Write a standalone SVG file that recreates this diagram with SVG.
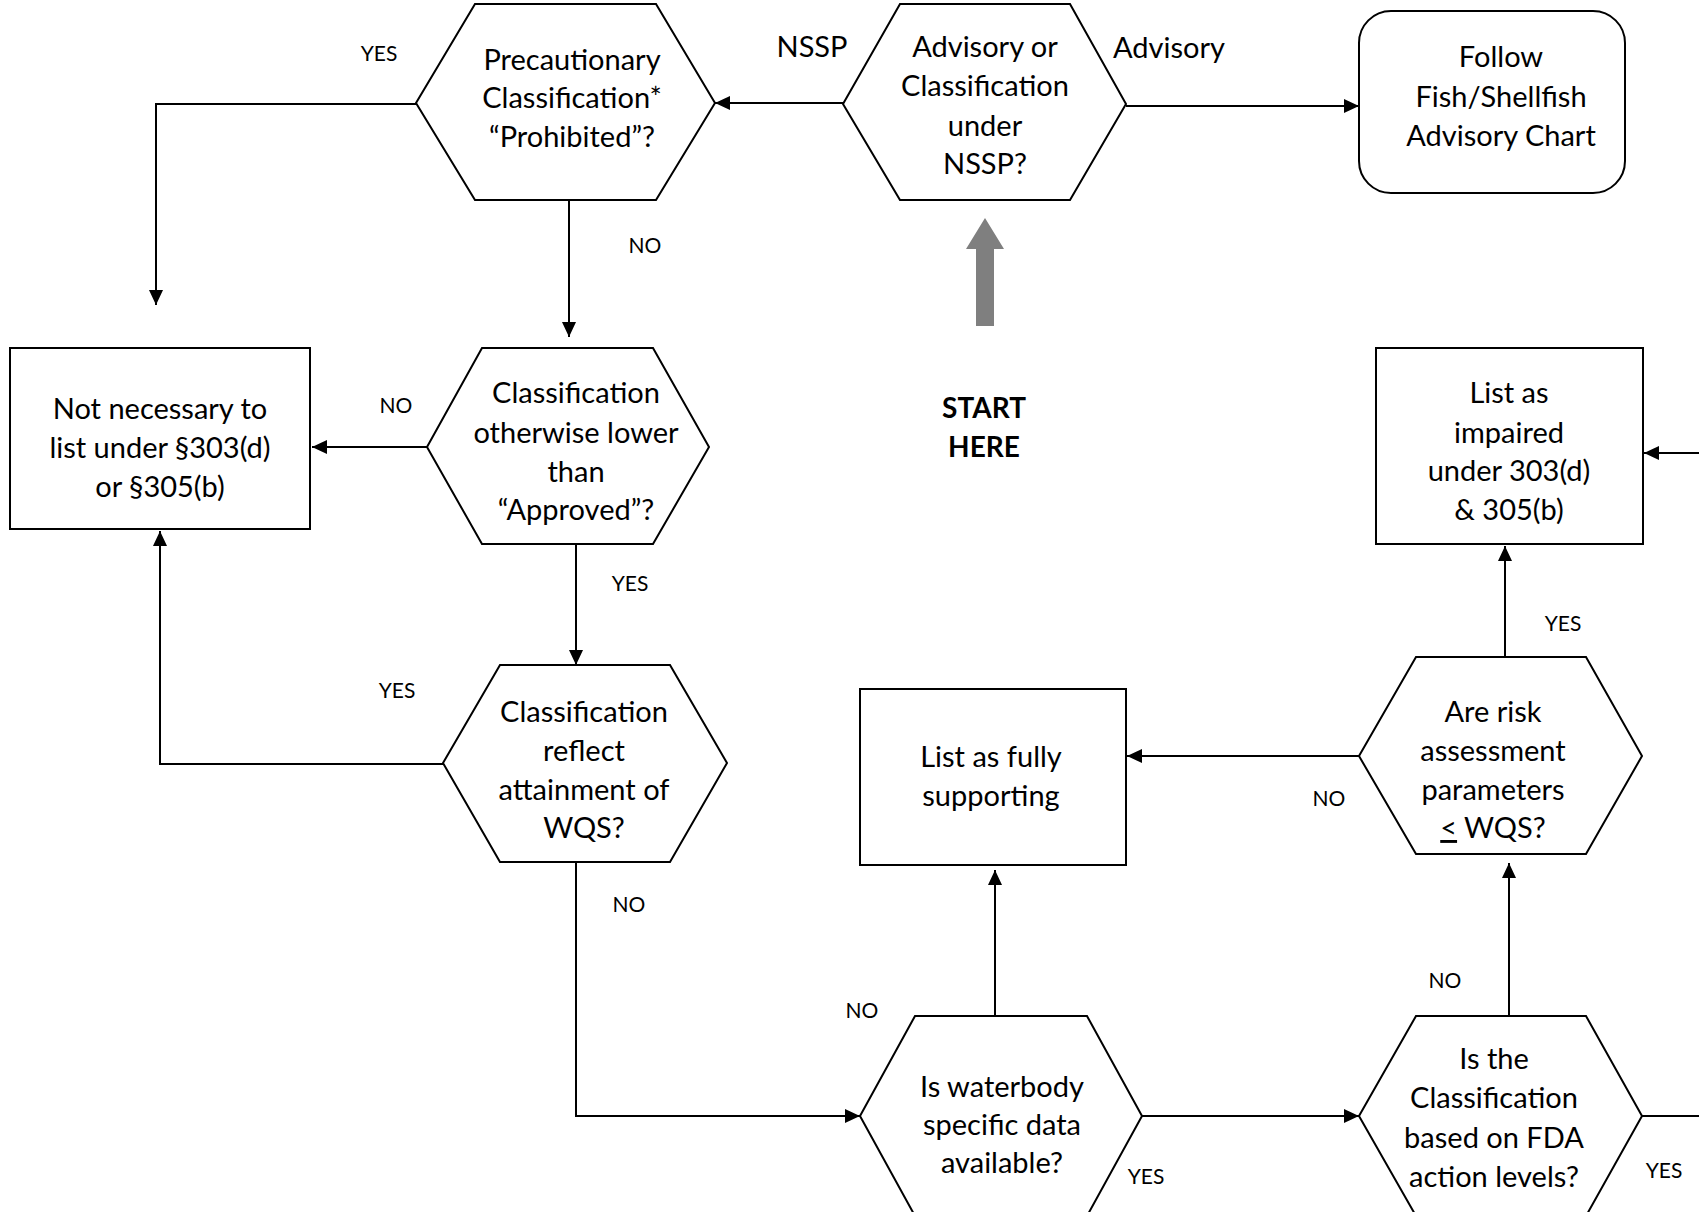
<svg xmlns="http://www.w3.org/2000/svg" width="1699" height="1212" viewBox="0 0 1699 1212">
<style>
.shape{fill:#fff;stroke:#000;stroke-width:2}
.t{font-family:Lato,"Liberation Sans",sans-serif;font-size:29px;fill:#000;text-anchor:middle}
.lbl{font-family:Lato,"Liberation Sans",sans-serif;font-size:21px;fill:#000;text-anchor:middle}
.b{font-weight:bold;font-size:28px}
.c{fill:none;stroke:#000;stroke-width:2}
</style>
<defs>
<marker id="ah" viewBox="0 0 15 14" refX="15" refY="7" markerWidth="15" markerHeight="14" orient="auto" markerUnits="userSpaceOnUse"><path d="M0,0 L15,7 L0,14 z" fill="#000"/></marker>
</defs>
<rect width="1699" height="1212" fill="#fff"/>

<g id="connectors">
<path class="c" d="M1126 106 H1359" marker-end="url(#ah)"/>
<path class="c" d="M843 103 H715" marker-end="url(#ah)"/>
<path class="c" d="M416 104 H156 V305" marker-end="url(#ah)"/>
<path class="c" d="M569 200 V337" marker-end="url(#ah)"/>
<path class="c" d="M427 447 H312" marker-end="url(#ah)"/>
<path class="c" d="M576 544 V665" marker-end="url(#ah)"/>
<path class="c" d="M443 764 H160 V531" marker-end="url(#ah)"/>
<path class="c" d="M576 862 V1116 H860" marker-end="url(#ah)"/>
<path class="c" d="M995 1016 V870" marker-end="url(#ah)"/>
<path class="c" d="M1359 756 H1127" marker-end="url(#ah)"/>
<path class="c" d="M1505 657 V546" marker-end="url(#ah)"/>
<path class="c" d="M1509 1016 V863" marker-end="url(#ah)"/>
<path class="c" d="M1142 1116 H1359" marker-end="url(#ah)"/>
<path class="c" d="M1642 1116 H1699"/>
<path class="c" d="M1699 453 H1644" marker-end="url(#ah)"/>
<polygon points="985,218 1004,249 994,249 994,326 976,326 976,249 966,249" fill="#7f7f7f"/>
<text class="lbl" x="379" y="61">YES</text>
<text class="t" x="812" y="57">NSSP</text>
<text class="t" x="1169" y="58">Advisory</text>
<text class="lbl" x="645" y="253">NO</text>
<text class="lbl" x="396" y="413">NO</text>
<text class="lbl" x="630" y="591">YES</text>
<text class="lbl" x="397" y="698">YES</text>
<text class="lbl" x="629" y="912">NO</text>
<text class="lbl" x="862" y="1018">NO</text>
<text class="lbl" x="1329" y="806">NO</text>
<text class="lbl" x="1563" y="631">YES</text>
<text class="lbl" x="1146" y="1184">YES</text>
<text class="lbl" x="1445" y="988">NO</text>
<text class="lbl" x="1664" y="1178">YES</text>
</g>

<g id="start">
<text class="t b" x="984" y="418">START</text>
<text class="t b" x="984" y="457">HERE</text>
</g>

<g id="precautionary">
<polygon class="shape" points="475,4 656,4 715,103 656,200 475,200 416,103"/>
<text class="t" x="572" y="70">Precautionary</text>
<text class="t" x="572" y="108">Classification*</text>
<text class="t" x="572" y="147">“Prohibited”?</text>
</g>

<g id="advisory">
<polygon class="shape" points="900,4 1070,4 1126,104 1070,200 900,200 843,104"/>
<text class="t" x="985" y="57">Advisory or</text>
<text class="t" x="985" y="96">Classification</text>
<text class="t" x="985" y="136">under</text>
<text class="t" x="985" y="174">NSSP?</text>
</g>

<g id="follow">
<rect class="shape" x="1359" y="11" width="266" height="182" rx="32"/>
<text class="t" x="1501" y="67">Follow</text>
<text class="t" x="1501" y="107">Fish/Shellfish</text>
<text class="t" x="1501" y="146">Advisory Chart</text>
</g>

<g id="lower">
<polygon class="shape" points="482,348 653,348 709,447 653,544 482,544 427,447"/>
<text class="t" x="576" y="403">Classification</text>
<text class="t" x="576" y="443">otherwise lower</text>
<text class="t" x="576" y="482">than</text>
<text class="t" x="576" y="520">“Approved”?</text>
</g>

<g id="notnecessary">
<rect class="shape" x="10" y="348" width="300" height="181"/>
<text class="t" x="160" y="419">Not necessary to</text>
<text class="t" x="160" y="458">list under §303(d)</text>
<text class="t" x="160" y="497">or §305(b)</text>
</g>

<g id="reflect">
<polygon class="shape" points="500,665 670,665 727,763 670,862 500,862 443,763"/>
<text class="t" x="584" y="722">Classification</text>
<text class="t" x="584" y="761">reflect</text>
<text class="t" x="584" y="800">attainment of</text>
<text class="t" x="584" y="838">WQS?</text>
</g>

<g id="fullysupporting">
<rect class="shape" x="860" y="689" width="266" height="176"/>
<text class="t" x="991" y="767">List as fully</text>
<text class="t" x="991" y="806">supporting</text>
</g>

<g id="impaired">
<rect class="shape" x="1376" y="348" width="267" height="196"/>
<text class="t" x="1509" y="403">List as</text>
<text class="t" x="1509" y="443">impaired</text>
<text class="t" x="1509" y="481">under 303(d)</text>
<text class="t" x="1509" y="520">&amp; 305(b)</text>
</g>

<g id="risk">
<polygon class="shape" points="1416,657 1586,657 1642,756 1586,854 1416,854 1359,756"/>
<text class="t" x="1493" y="722">Are risk</text>
<text class="t" x="1493" y="761">assessment</text>
<text class="t" x="1493" y="800">parameters</text>
<text class="t" x="1493" y="838"><tspan text-decoration="underline">&lt;</tspan> WQS?</text>
</g>

<g id="waterbody">
<polygon class="shape" points="915,1016 1087,1016 1142,1116 1087,1216 915,1216 860,1116"/>
<text class="t" x="1002" y="1097">Is waterbody</text>
<text class="t" x="1002" y="1135">specific data</text>
<text class="t" x="1002" y="1173">available?</text>
</g>

<g id="fda">
<polygon class="shape" points="1416,1016 1586,1016 1642,1116 1586,1216 1416,1216 1359,1116"/>
<text class="t" x="1494" y="1069">Is the</text>
<text class="t" x="1494" y="1108">Classification</text>
<text class="t" x="1494" y="1148">based on FDA</text>
<text class="t" x="1494" y="1187">action levels?</text>
</g>
</svg>
